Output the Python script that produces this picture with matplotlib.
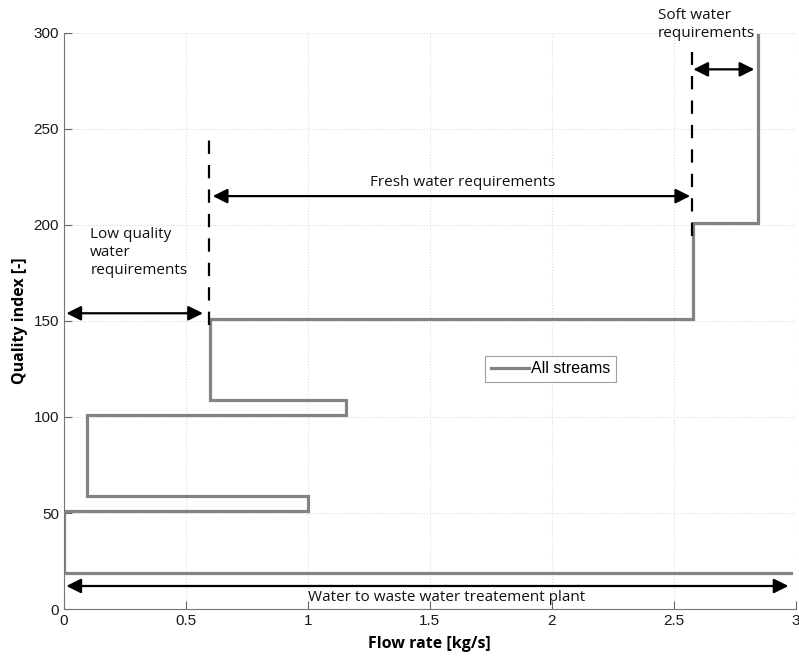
import matplotlib.pyplot as plt

# composite curve of all streams (flow rate kg/s, quality index)
flow = [2.98, 0.0, 0.0, 1.0, 1.0, 0.095, 0.095, 1.155, 1.155, 0.598, 0.598, 2.578, 2.578, 2.843, 2.843]
quality = [19, 19, 51, 51, 59, 59, 101, 101, 109, 109, 151, 151, 201, 201, 299]

# dashed separators: (x, y_bottom, y_top)
dash_x = [0.596, 2.575]
dash_y0 = [148, 194]
dash_y1 = [246, 290]

# double arrows: (x_start, x_end, y)
arrow_x0 = [0.01, 0.61, 2.58, 0.01]
arrow_x1 = [0.57, 2.567, 2.83, 2.97]
arrow_y = [154, 215, 281, 12]

xticks = [0, 0.5, 1, 1.5, 2, 2.5, 3]
xticklabels = ['0', '0.5', '1', '1.5', '2', '2.5', '3']
yticks = [0, 50, 100, 150, 200, 250, 300]

fig = plt.figure(figsize=(7.99, 6.57), dpi=100)
ax = fig.add_axes([0.080, 0.073, 0.916, 0.877])

ax.plot(flow, quality, color='#828288', lw=2.3, label='All streams', solid_joinstyle='miter')

for x, y0, y1 in zip(dash_x, dash_y0, dash_y1):
    ax.plot([x, x], [y0, y1], color='black', lw=1.6, dashes=(6, 5))

for x0, x1, y in zip(arrow_x0, arrow_x1, arrow_y):
    ax.annotate('', xy=(x1, y), xytext=(x0, y),
                arrowprops=dict(arrowstyle='<|-|>', color='black', lw=1.6,
                                mutation_scale=22, shrinkA=0, shrinkB=0))

txt = dict(family='Open Sans', fontsize=11, color='#111111')
ax.text(0.108, 199, 'Low quality\nwater\nrequirements', va='top', ha='left', linespacing=1.3, **txt)
ax.text(1.635, 222, 'Fresh water requirements', va='center', ha='center', **txt)
ax.text(2.435, 313, 'Soft water\nrequirements', va='top', ha='left', linespacing=1.3, clip_on=False, **txt)
ax.text(1.57, 6, 'Water to waste water treatement plant', va='center', ha='center', **txt)

ax.set_xlim(0, 3)
ax.set_ylim(0, 300)
ax.set_xticks(xticks)
ax.set_xticklabels(xticklabels)
ax.set_yticks(yticks)
ax.tick_params(direction='in', length=6, color='#666666', labelsize=11, labelcolor='#1a1a1a')
for lab in ax.get_xticklabels() + ax.get_yticklabels():
    lab.set_family('Liberation Sans')
ax.grid(True, color='#dcdcdc', linestyle=':', lw=0.8)
ax.spines['top'].set_visible(False)
ax.spines['right'].set_visible(False)
for s in ['left', 'bottom']:
    ax.spines[s].set_color('#777777')

ax.set_xlabel('Flow rate [kg/s]', family='Open Sans', fontweight='bold', fontsize=11.5, labelpad=6)
ax.set_ylabel('Quality index [-]', family='Open Sans', fontweight='bold', fontsize=11.5, labelpad=4)

leg = ax.legend(loc='upper left', bbox_to_anchor=(0.576, 0.44), fancybox=False,
                prop={'family': 'Liberation Sans', 'size': 11.5}, handlelength=2.4,
                handletextpad=0.1, borderpad=0.35, borderaxespad=0)
leg.get_frame().set_edgecolor('#888888')
leg.get_frame().set_linewidth(0.8)

fig.savefig('out.png', dpi=100)
